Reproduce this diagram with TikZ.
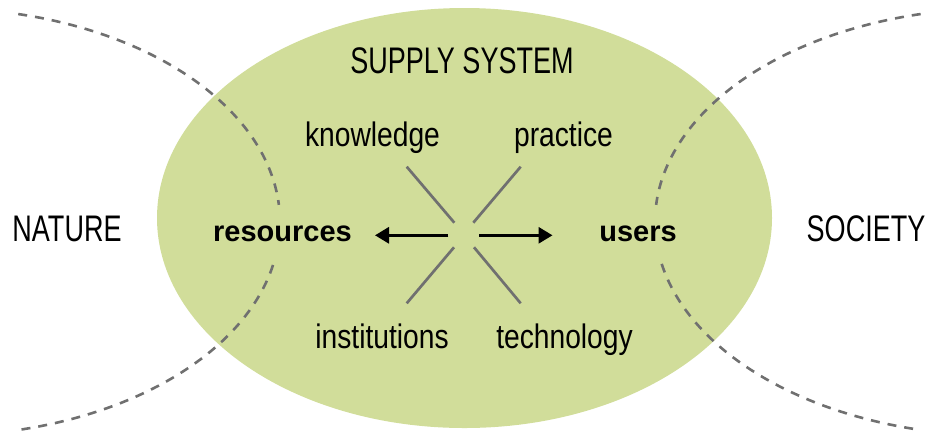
\documentclass[tikz,border=0pt]{standalone}
\usepackage{fontspec}
\usetikzlibrary{arrows.meta}
\newfontfamily\capsf{Liberation Sans}[FakeStretch=0.73]
\newfontfamily\lowf{Liberation Sans}[FakeStretch=0.83]
\newfontfamily\boldf{Liberation Sans}[FakeStretch=1.0]
\definecolor{ellgreen}{RGB}{209,221,154}
\definecolor{linegray}{RGB}{112,112,112}
\tikzset{
  capslabel/.style={inner sep=0pt, anchor=base, font=\capsf\fontsize{37}{40}\selectfont},
  lowlabel/.style={inner sep=0pt, anchor=base, font=\lowf\fontsize{34}{38}\selectfont},
  boldlabel/.style={inner sep=0pt, anchor=base, font=\boldf\bfseries\fontsize{29}{33}\selectfont},
  spoke/.style={draw=linegray, line width=2.7pt},
  flowarrow/.style={draw=black, line width=3pt, -{Triangle[length=14pt,width=16pt]}},
  dashline/.style={draw=linegray, line width=2.6pt, dash pattern=on 9pt off 8pt},
}
\begin{document}
\begin{tikzpicture}[x=1pt,y=-1pt]
\useasboundingbox (0,0) rectangle (925,432);
% supply system ellipse
\fill[ellgreen] (464.5,218) ellipse [x radius=307.5pt, y radius=210pt];
% dashed boundaries of nature and society
\draw[dashline] plot[domain=-76.7:-4.6, samples=80] ({-60+340*cos(\x)},{222+213.7*sin(\x)});
\draw[dashline] plot[domain=11.6:76.7, samples=80] ({-60+340*cos(\x)},{222+213.7*sin(\x)});
\draw[dashline] plot[domain=-76.7:-4.6, samples=80] ({1000-345*cos(\x)},{222+213.7*sin(\x)});
\draw[dashline] plot[domain=11.3:76.7, samples=80] ({1000-345*cos(\x)},{222+213.7*sin(\x)});
% labels
\node[capslabel] (sys) at (462,73) {SUPPLY SYSTEM};
\node[capslabel] (nat) at (67,241) {NATURE};
\node[capslabel] (soc) at (866,241) {SOCIETY};
\node[lowlabel] (know) at (372.5,146) {knowledge};
\node[lowlabel] (prac) at (563.5,146) {practice};
\node[lowlabel] (inst) at (382,348) {institutions};
\node[lowlabel] (tech) at (564.5,348) {technology};
\node[boldlabel] (res) at (282.5,241) {resources};
\node[boldlabel] (use) at (638,241) {users};
% spokes
\coordinate (c) at (463.7,235.3);
\coordinate (ulA) at (454.3,222.7); \coordinate (ulB) at (406.7,166.7);
\coordinate (urA) at (473.3,222.7); \coordinate (urB) at (520.7,166.7);
\coordinate (llA) at (454.0,247.3); \coordinate (llB) at (406.7,303.3);
\coordinate (lrA) at (474.0,247.3); \coordinate (lrB) at (520.7,303.3);
\draw[spoke] (ulA) -- (ulB);
\draw[spoke] (urA) -- (urB);
\draw[spoke] (llA) -- (llB);
\draw[spoke] (lrA) -- (lrB);
% arrows
\coordinate (resTip) at (375,235.3);
\coordinate (useTip) at (552.5,235.3);
\coordinate (resStart) at (448.3,235.3);
\coordinate (useStart) at (479.3,235.3);
\draw[flowarrow] (resStart) -- (resTip);
\draw[flowarrow] (useStart) -- (useTip);
\end{tikzpicture}
\end{document}
